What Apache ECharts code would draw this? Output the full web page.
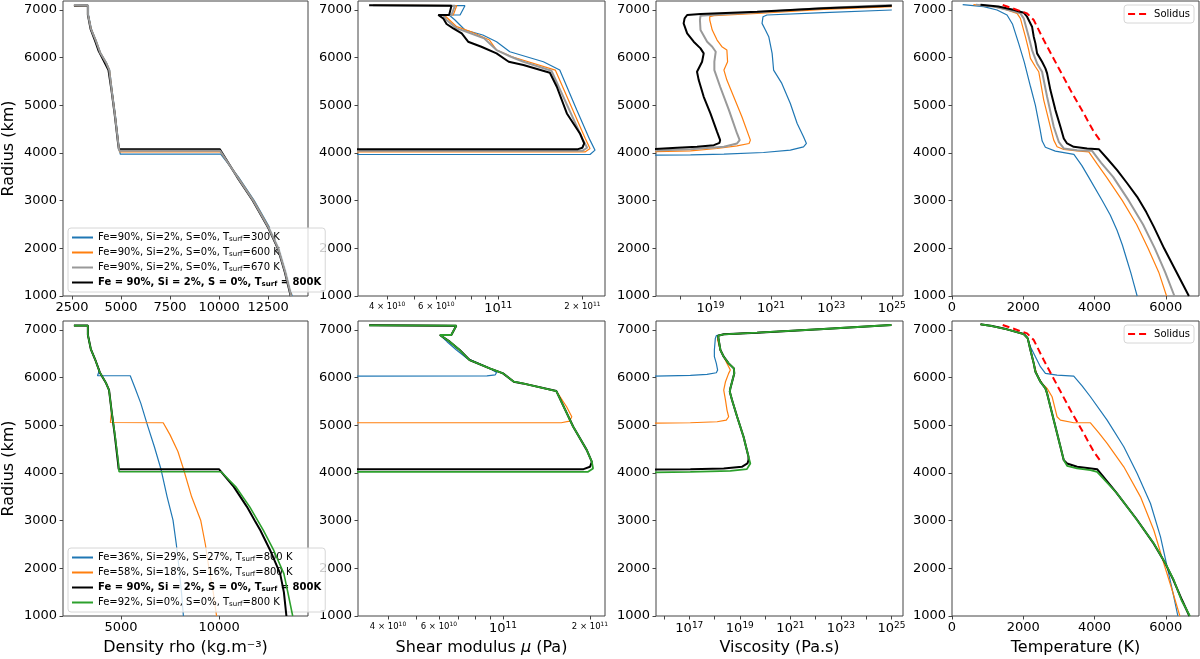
<!DOCTYPE html>
<html>
<head>
<meta charset="utf-8">
<script src="https://cdn.jsdelivr.net/npm/echarts@6.0.0/dist/echarts.min.js"></script>
<style>
html, body { margin: 0; padding: 0; background: #fff; }
#chart { width: 1200px; height: 659px; }
</style>
</head>
<body>
<div id="chart"></div>
<script>
// series names
const N300 = 'Fe=90%, Si=2%, S=0%, Tsurf=300 K'
const N600 = 'Fe=90%, Si=2%, S=0%, Tsurf=600 K'
const N670 = 'Fe=90%, Si=2%, S=0%, Tsurf=670 K'
const N800 = 'Fe=90%, Si=2%, S=0%, Tsurf=800K'
const N36 = 'Fe=36%, Si=29%, S=27%, Tsurf=800 K'
const N58 = 'Fe=58%, Si=18%, S=16%, Tsurf=800 K'
const N92 = 'Fe=92%, Si=0%, S=0%, Tsurf=800 K'
const NSOL = 'Solidus'

// tick values
const radiusTicks = [1000, 2000, 3000, 4000, 5000, 6000, 7000]
const rhoTicksTop = [2500, 5000, 7500, 10000, 12500]
const rhoTicksBot = [5000, 10000]
const muTicks = [4e10, 6e10, 1e11, 2e11]
const muMinor = [4e10, 5e10, 6e10, 7e10, 8e10, 9e10, 1e11, 2e11]
const etaTicksTop = [1e19, 1e21, 1e23, 1e25]
const etaTicksBot = [1e17, 1e19, 1e21, 1e23, 1e25]
const etaMinorTop = [1e18, 1e19, 1e20, 1e21, 1e22, 1e23, 1e24, 1e25]
const etaMinorBot = [1e16, 1e17, 1e18, 1e19, 1e20, 1e21, 1e22, 1e23, 1e24, 1e25]
const tempTicks = [0, 2000, 4000, 6000]

// ---- density (kg/m3) vs radius (km), top row ----
const rhoTop300 = [[2600,7090],[3340,7090],[3340,6900],[3390,6860],[3490,6600],[3740,6350],[3950,6110],[4250,5900],[4420,5740],[4550,5300],[4710,4800],[4880,4200],[4960,3975],[10080,3975],[10160,3955],[10980,3500],[11790,3000],[12550,2450],[13060,2000],[13420,1500],[13720,1000]]
const rhoTop600 = [[2600,7092],[3330,7092],[3330,6900],[3380,6860],[3480,6600],[3730,6350],[3940,6110],[4240,5900],[4410,5740],[4540,5300],[4700,4800],[4870,4200],[4930,4025],[10060,4025],[10140,4000],[10950,3500],[11760,3000],[12520,2450],[13030,2000],[13390,1500],[13690,1000]]
const rhoTop670 = [[2600,7105],[2620,7092],[3320,7092],[3320,6900],[3370,6860],[3470,6600],[3720,6350],[3930,6110],[4230,5900],[4400,5740],[4530,5300],[4690,4800],[4860,4200],[4910,4046],[10050,4046],[10120,4020],[10930,3500],[11740,3000],[12500,2450],[13010,2000],[13370,1500],[13670,1000]]
const rhoTop800 = [[2600,7092],[3310,7092],[3310,6900],[3360,6860],[3450,6600],[3680,6350],[3850,6150],[4100,5950],[4360,5740],[4520,5300],[4680,4800],[4850,4200],[4890,4081],[10030,4081],[10110,4050],[10910,3500],[11720,3000],[12480,2450],[12990,2000],[13350,1500],[13650,1000]]

// ---- density, bottom row ----
const rhoBot36 = [[2600,7092],[3310,7092],[3310,6900],[3360,6860],[3460,6600],[3710,6350],[3900,6150],[3800,6040],[5470,6040],[5700,5800],[6010,5460],[6350,5000],[6700,4550],[7030,4090],[7350,3500],[7650,3010],[7820,2500],[7960,2000],[8080,1500],[8180,1000]]
const rhoBot58 = [[2600,7092],[3310,7092],[3310,6900],[3360,6860],[3460,6600],[3710,6350],[3920,6110],[4220,5900],[4390,5740],[4520,5300],[4460,5060],[7150,5054],[7500,4800],[7900,4450],[8180,4090],[8600,3500],[9060,3010],[9300,2500],[9480,2000],[9700,1500],[9870,1000]]
const rhoBot90 = [[2600,7092],[3310,7092],[3310,6900],[3360,6860],[3460,6600],[3710,6350],[3920,6110],[4220,5900],[4390,5740],[4520,5300],[4680,4800],[4850,4200],[4880,4081],[9990,4081],[10080,4050],[10750,3710],[11420,3290],[11820,3000],[12100,2800],[12600,2380],[13110,1890],[13300,1500],[13430,1000]]
const rhoBot92 = [[2600,7092],[3310,7092],[3310,6900],[3360,6860],[3460,6600],[3710,6350],[3920,6110],[4220,5900],[4390,5740],[4520,5300],[4690,4800],[4870,4200],[4900,4025],[10100,4025],[10180,3990],[10850,3710],[11560,3290],[12250,2800],[12780,2380],[13300,1890],[13500,1500],[13750,1000]]

// ---- shear modulus (Pa), top row ----
const muTop300 = [[3.75e10,7098],[7.6e10,7091],[7.3e10,6895],[6.67e10,6895],[7.0e10,6790],[7.6e10,6580],[8.8e10,6475],[9.86e10,6335],[1.1e11,6125],[1.45e11,5915],[1.66e11,5740],[1.91e11,4900],[2.13e11,4270],[2.22e11,4060],[2.13e11,3969],[3e10,3969]]
const muTop600 = [[3.6e10,7105],[7.1e10,7091],[6.9e10,6895],[6.4e10,6895],[7.1e10,6650],[8.0e10,6545],[9.3e10,6370],[9.86e10,6160],[1.12e11,6020],[1.6e11,5740],[2.05e11,4300],[2.13e11,4095],[2.05e11,4025],[3e10,4025]]
const muTop670 = [[3.56e10,7098],[7.0e10,7091],[6.8e10,6895],[6.35e10,6895],[6.53e10,6790],[7.1e10,6615],[7.7e10,6545],[8.9e10,6405],[9.86e10,6160],[1.11e11,6020],[1.23e11,5915],[1.55e11,5726],[2.0e11,4300],[2.08e11,4110],[2.0e11,4046],[3e10,4046]]
const muTop800 = [[3.45e10,7098],[6.8e10,7091],[6.67e10,6895],[6.1e10,6895],[6.35e10,6825],[6.53e10,6706],[6.9e10,6615],[7.4e10,6510],[7.8e10,6335],[8.7e10,6230],[9.86e10,6090],[1.09e11,5915],[1.23e11,5845],[1.53e11,5684],[1.62e11,5390],[1.76e11,4830],[1.96e11,4410],[2.03e11,4200],[2.0e11,4110],[1.93e11,4081],[3e10,4081]]

// ---- shear modulus, bottom row ----
const muBot36 = [[3.44e10,7098],[6.89e10,7091],[6.62e10,6895],[6.05e10,6895],[6.4e10,6755],[6.9e10,6580],[7.5e10,6405],[9.0e10,6195],[9.5e10,6110],[9.4e10,6060],[8.8e10,6038],[3e10,6034]]
const muBot58 = [[3.44e10,7098],[6.89e10,7091],[6.62e10,6895],[6.05e10,6895],[6.54e10,6755],[7.08e10,6580],[7.66e10,6370],[8.99e10,6195],[1.0e11,6090],[1.09e11,5915],[1.17e11,5880],[1.53e11,5719],[1.66e11,5390],[1.73e11,5180],[1.70e11,5089],[1.59e11,5054],[3e10,5054]]
const muBot90 = [[3.44e10,7098],[6.89e10,7091],[6.62e10,6895],[6.05e10,6895],[6.54e10,6755],[7.08e10,6580],[7.66e10,6370],[8.99e10,6195],[1.0e11,6090],[1.09e11,5915],[1.17e11,5880],[1.53e11,5719],[1.75e11,4970],[1.95e11,4480],[2.03e11,4235],[2.0e11,4130],[1.9e11,4081],[3e10,4081]]
const muBot92 = [[3.44e10,7098],[6.89e10,7091],[6.62e10,6895],[6.05e10,6895],[6.54e10,6755],[7.08e10,6580],[7.66e10,6370],[8.99e10,6195],[1.0e11,6090],[1.09e11,5915],[1.17e11,5880],[1.53e11,5719],[1.75e11,4970],[1.95e11,4480],[2.03e11,4235],[2.05e11,4095],[1.97e11,4025],[3e10,4025]]

// ---- viscosity (Pa.s), top row ----
const etaTop300 = [[1e25,7000],[5.6e22,6944],[7.4e20,6895],[5.5e20,6860],[5.1e20,6720],[6.6e20,6580],[8.5e20,6440],[1.1e21,6090],[1.23e21,5740],[2.3e21,5460],[4.4e21,5040],[7.4e21,4620],[1.2e22,4340],[1.5e22,4200],[1.2e22,4130],[4.4e21,4060],[5.7e20,4011],[2.8e19,3976],[2.2e18,3960],[1e17,3955]]
const etaTop600 = [[1e25,7070],[5.6e22,7014],[3.5e20,6930],[1.3e19,6881],[9.5e18,6860],[9.5e18,6790],[1.15e19,6580],[1.66e19,6370],[2.4e19,6230],[3.5e19,6160],[3.7e19,5915],[2.8e19,5740],[3.5e19,5530],[5.9e19,5180],[1.1e20,4760],[2.1e20,4270],[1.9e20,4200],[7.6e19,4151],[1.66e19,4095],[2.2e18,4046],[1e17,4025]]
const etaTop670 = [[1e25,7105],[5.6e22,7042],[3.5e20,6951],[1e19,6895],[4.7e18,6881],[4.5e18,6790],[4.7e18,6580],[7.8e18,6335],[1.15e19,6230],[1.5e19,6125],[1.35e19,5915],[1.35e19,5740],[2.1e19,5390],[4.1e19,4900],[7.6e19,4410],[9.3e19,4270],[7.6e19,4200],[2.8e19,4130],[2.2e18,4081],[1e17,4050]]
const etaTop800 = [[1e25,7091],[5.6e22,7035],[3.5e20,6965],[4.7e18,6916],[1.7e18,6895],[1.4e18,6825],[1.3e18,6720],[1.7e18,6510],[2.8e18,6335],[4.7e18,6195],[6.0e18,6090],[5.3e18,5915],[3.6e18,5705],[4.1e18,5530],[6.0e18,5180],[1.0e19,4830],[1.66e19,4445],[2.1e19,4270],[2.0e19,4214],[1.3e19,4165],[3.6e18,4130],[7.9e17,4109],[1e17,4081]]

// ---- viscosity, bottom row ----
const etaBot36 = [[1e25,7105],[2.1e22,7021],[4.8e19,6944],[2.3e18,6909],[1.17e18,6881],[1.07e18,6825],[9.8e17,6580],[9.8e17,6440],[1.17e18,6300],[1.32e18,6160],[1.17e18,6104],[5.0e17,6069],[1.1e17,6048],[4e15,6034]]
const etaBot58 = [[1e25,7105],[2.1e22,7021],[4.8e19,6944],[2.3e18,6909],[1.38e18,6881],[1.32e18,6790],[1.7e18,6580],[2.3e18,6440],[3.1e18,6300],[4.2e18,6160],[3.6e18,6090],[2.7e18,5915],[2.3e18,5740],[2.7e18,5530],[3.1e18,5320],[3.6e18,5180],[2.9e18,5110],[1.26e18,5075],[1.1e17,5054],[4e15,5047]]
const etaBot90 = [[1e25,7105],[2.1e22,7021],[4.8e19,6944],[2.3e18,6909],[1.38e18,6881],[1.45e18,6790],[1.7e18,6580],[2.3e18,6440],[3.6e18,6300],[5.8e18,6195],[6.0e18,6090],[4.2e18,5775],[4.0e18,5705],[4.9e18,5530],[7.8e18,5180],[1.4e19,4760],[2.2e19,4340],[2.2e19,4270],[2.0e19,4200],[1.2e19,4130],[2.3e18,4095],[1.1e17,4081],[4e15,4074]]
const etaBot92 = [[1e25,7105],[2.1e22,7021],[4.8e19,6944],[2.3e18,6909],[1.38e18,6881],[1.45e18,6790],[1.7e18,6580],[2.3e18,6440],[3.6e18,6300],[5.8e18,6195],[6.0e18,6090],[4.2e18,5775],[4.0e18,5705],[4.9e18,5530],[7.8e18,5180],[1.4e19,4760],[2.2e19,4340],[2.6e19,4200],[1.9e19,4081],[4.2e18,4046],[1.1e17,4025],[4e15,4015]]

// ---- temperature (K), top row ----
const tempTop300 = [[300,7112],[890,7070],[1264,7000],[1544,6895],[1700,6700],[1870,6300],[2030,5900],[2200,5400],[2340,5000],[2470,4500],[2530,4250],[2620,4120],[2900,4040],[3420,3970],[3640,3740],[3830,3500],[4210,3010],[4440,2700],[4630,2380],[4780,2070],[4910,1750],[5020,1480],[5100,1260],[5195,1000]]
const tempTop600 = [[600,7112],[1076,7084],[1500,7010],[1825,6930],[1919,6825],[2059,6440],[2153,6160],[2200,5985],[2340,5810],[2434,5705],[2574,5110],[2761,4550],[2855,4270],[2948,4130],[3136,4074],[3510,4046],[3838,4025],[4080,3760],[4330,3500],[4780,3000],[5180,2500],[5500,2000],[5800,1500],[6020,1000]]
const tempTop670 = [[670,7112],[1200,7070],[1700,6980],[1919,6930],[2012,6825],[2153,6440],[2246,6160],[2387,5880],[2527,5705],[2668,5180],[2855,4550],[2995,4235],[3136,4095],[3510,4060],[3931,4046],[4180,3800],[4520,3500],[4960,3000],[5360,2500],[5690,2000],[5980,1500],[6240,1000]]
const tempTop800 = [[800,7112],[1300,7075],[1750,7000],[2012,6944],[2106,6860],[2246,6650],[2293,6440],[2340,6300],[2387,6090],[2527,5915],[2621,5775],[2668,5670],[2761,5320],[2902,4900],[3042,4550],[3136,4305],[3229,4200],[3416,4130],[3791,4095],[4118,4081],[4352,3885],[4633,3640],[4920,3360],[5195,3080],[5450,2760],[5663,2450],[5950,2000],[6300,1500],[6646,1000]]

// ---- temperature, bottom row ----
const tempBot36 = [[800,7119],[1123,7084],[1544,7014],[2012,6916],[2106,6860],[2200,6650],[2340,6440],[2480,6230],[2621,6090],[2948,6055],[3416,6034],[3650,5830],[3884,5600],[4352,5110],[4820,4550],[5195,3990],[5569,3360],[5850,2660],[6037,2030],[6224,1400],[6337,1000]]
const tempBot58 = [[800,7119],[1123,7084],[1544,7014],[2012,6916],[2125,6825],[2200,6580],[2293,6300],[2387,6055],[2527,5880],[2668,5775],[2808,5600],[2902,5320],[2948,5180],[3042,5110],[3416,5054],[3884,5054],[4120,4840],[4352,4620],[4820,4130],[5288,3500],[5663,2800],[5944,2100],[6178,1540],[6393,1000]]
const tempBot90 = [[800,7119],[1123,7084],[1544,7014],[2012,6916],[2125,6825],[2200,6580],[2293,6300],[2340,6125],[2387,6055],[2480,5915],[2621,5775],[2668,5670],[2761,5390],[2902,4970],[3042,4550],[3136,4270],[3229,4200],[3510,4130],[4072,4081],[4600,3600],[5170,3040],[5640,2540],[5980,2110],[6210,1760],[6450,1340],[6660,1000]]
const tempBot92 = [[800,7119],[1123,7084],[1544,7014],[2012,6916],[2125,6825],[2200,6580],[2293,6300],[2340,6125],[2387,6055],[2480,5915],[2621,5775],[2668,5670],[2761,5390],[2902,4970],[3042,4550],[3136,4270],[3229,4151],[3510,4095],[3884,4060],[4072,4025],[4633,3570],[5195,3010],[5663,2520],[5990,2100],[6224,1750],[6440,1330],[6674,1000]]

// solidus (same curve in both temperature panels)
const solidus = [[1423,7105],[2106,6930],[2293,6790],[2574,6370],[2948,5845],[3323,5320],[3697,4830],[3978,4445],[4184,4235]]

const FONT = 'DejaVu Sans'
const BLUE = '#1f77b4', ORANGE = '#ff7f0e', GRAY = '#999999', BLACK = '#000000', GREEN = '#2ca02c'

const cols = [62, 358, 656, 952]
const colW = [246, 247, 247, 247]
const rows = [1, 321]
const rowH = 295

const grids = []
for (let r = 0; r < 2; r++) {
  for (let c = 0; c < 4; c++) {
    grids.push({
      left: cols[c], top: rows[r], width: colW[c], height: rowH,
      show: true, borderColor: '#444', borderWidth: 1, backgroundColor: 'transparent'
    })
  }
}

const lg = arr => arr.map(v => Math.log10(v))
const logPts = arr => arr.map(p => [Math.log10(p[0]), p[1]])

const supRich = {
  b: { fontSize: 13, fontFamily: FONT, color: '#000' },
  s: { fontSize: 9, fontFamily: FONT, color: '#000', padding: [0, 0, 7, 0] },
  m: { fontSize: 8.5, fontFamily: FONT, color: '#000' },
  ms: { fontSize: 6, fontFamily: FONT, color: '#000', padding: [0, 0, 5, 0] }
}
const powLabel = v => '{b|10}{s|' + Math.round(v) + '}'
const muLabel = v => {
  const e = Math.floor(v + 1e-9)
  const m = Math.round(Math.pow(10, v - e))
  return m === 1 ? '{b|10}{s|' + e + '}' : '{m|' + m + ' × 10}{ms|' + e + '}'
}

function xAxis(idx, min, max, labels, ticks, formatter, name) {
  return {
    type: 'value', gridIndex: idx, min: min, max: max,
    axisLine: { show: false }, splitLine: { show: false },
    axisTick: { show: true, customValues: ticks, length: 3.5, lineStyle: { color: '#444' } },
    axisLabel: { customValues: labels, formatter: formatter, margin: 5, fontSize: 13, fontFamily: FONT, color: '#000', rich: supRich },
    name: name || '', nameLocation: 'middle', nameGap: 24,
    nameTextStyle: { fontSize: 16, fontFamily: FONT, color: '#000', rich: {
      n: { fontSize: 16, fontFamily: FONT, color: '#000' },
      i: { fontSize: 16, fontFamily: FONT, color: '#000', fontStyle: 'italic' }
    } }
  }
}
function yAxis(idx, withName) {
  return {
    type: 'value', gridIndex: idx, min: 1000, max: 7189,
    axisLine: { show: false }, splitLine: { show: false },
    axisTick: { show: true, customValues: radiusTicks, length: 3.5, lineStyle: { color: '#444' } },
    axisLabel: { customValues: radiusTicks, formatter: v => String(v), margin: 6, fontSize: 13, fontFamily: FONT, color: '#000' },
    name: withName ? 'Radius (km)' : '', nameLocation: 'middle', nameGap: 46,
    nameTextStyle: { fontSize: 16, fontFamily: FONT, color: '#000' }
  }
}

const xAxes = [
  xAxis(0, 2043, 14530, rhoTicksTop, rhoTicksTop, v => String(v)),
  xAxis(1, 10.498, 11.382, lg(muTicks), lg(muMinor), muLabel),
  xAxis(2, 17.2, 25.37, lg(etaTicksTop), lg(etaMinorTop), powLabel),
  xAxis(3, 0, 6930, tempTicks, tempTicks, v => String(v)),
  xAxis(4, 2043, 14530, rhoTicksBot, rhoTicksBot, v => String(v), 'Density rho (kg.m⁻³)'),
  xAxis(5, 10.498, 11.353, lg(muTicks), lg(muMinor), muLabel, '{n|Shear modulus }{i|μ}{n| (Pa)}'),
  xAxis(6, 15.68, 25.46, lg(etaTicksBot), lg(etaMinorBot), powLabel, 'Viscosity (Pa.s)'),
  xAxis(7, 0, 6930, tempTicks, tempTicks, v => String(v), 'Temperature (K)')
]
const yAxes = [0, 1, 2, 3, 4, 5, 6, 7].map(i => yAxis(i, i % 4 === 0))

function line(name, data, color, width, idx, z, dashed) {
  return {
    type: 'line', name: name, data: data, xAxisIndex: idx, yAxisIndex: idx,
    symbol: 'none', showSymbol: false, silent: true, animation: false, clip: true, z: z,
    lineStyle: { color: color, width: width, type: dashed ? [7, 4] : 'solid' },
    itemStyle: { color: color }
  }
}

const series = [
  // top row
  line(N300, rhoTop300, BLUE, 1.2, 0, 2), line(N600, rhoTop600, ORANGE, 1.2, 0, 3),
  line(N800, rhoTop800, BLACK, 2, 0, 4), line(N670, rhoTop670, GRAY, 2, 0, 5),
  line(N300, logPts(muTop300), BLUE, 1.2, 1, 2), line(N600, logPts(muTop600), ORANGE, 1.2, 1, 3),
  line(N670, logPts(muTop670), GRAY, 2, 1, 4), line(N800, logPts(muTop800), BLACK, 2, 1, 5),
  line(N300, logPts(etaTop300), BLUE, 1.2, 2, 2), line(N600, logPts(etaTop600), ORANGE, 1.2, 2, 3),
  line(N670, logPts(etaTop670), GRAY, 2, 2, 4), line(N800, logPts(etaTop800), BLACK, 2, 2, 5),
  line(N300, tempTop300, BLUE, 1.2, 3, 2), line(N600, tempTop600, ORANGE, 1.2, 3, 3),
  line(N670, tempTop670, GRAY, 2, 3, 4), line(N800, tempTop800, BLACK, 2, 3, 5),
  line(NSOL, solidus, '#ff0000', 2, 3, 6, true),
  // bottom row
  line(N36, rhoBot36, BLUE, 1.2, 4, 2), line(N58, rhoBot58, ORANGE, 1.2, 4, 3),
  line(N800, rhoBot90, BLACK, 2, 4, 4), line(N92, rhoBot92, GREEN, 1.6, 4, 5),
  line(N36, logPts(muBot36), BLUE, 1.2, 5, 2), line(N58, logPts(muBot58), ORANGE, 1.2, 5, 3),
  line(N800, logPts(muBot90), BLACK, 2, 5, 4), line(N92, logPts(muBot92), GREEN, 1.8, 5, 5),
  line(N36, logPts(etaBot36), BLUE, 1.2, 6, 2), line(N58, logPts(etaBot58), ORANGE, 1.2, 6, 3),
  line(N800, logPts(etaBot90), BLACK, 2, 6, 4), line(N92, logPts(etaBot92), GREEN, 1.8, 6, 5),
  line(N36, tempBot36, BLUE, 1.2, 7, 2), line(N58, tempBot58, ORANGE, 1.2, 7, 3),
  line(N800, tempBot90, BLACK, 2, 7, 4), line(N92, tempBot92, GREEN, 1.8, 7, 5),
  line(NSOL, solidus, '#ff0000', 2, 7, 6, true)
]

const legendText = {}
legendText[N300] = '{n|Fe=90%, Si=2%, S=0%, T}{s|surf}{n|=300 K}'
legendText[N600] = '{n|Fe=90%, Si=2%, S=0%, T}{s|surf}{n|=600 K}'
legendText[N670] = '{n|Fe=90%, Si=2%, S=0%, T}{s|surf}{n|=670 K}'
legendText[N800] = '{b|Fe = 90%, Si = 2%, S = 0%, T}{bs|surf}{b| = 800K}'
legendText[N36] = '{n|Fe=36%, Si=29%, S=27%, T}{s|surf}{n|=800 K}'
legendText[N58] = '{n|Fe=58%, Si=18%, S=16%, T}{s|surf}{n|=800 K}'
legendText[N92] = '{n|Fe=92%, Si=0%, S=0%, T}{s|surf}{n|=800 K}'
legendText[NSOL] = '{n|Solidus}'

const legendRich = {
  n: { fontSize: 10, fontFamily: FONT, color: '#000', lineHeight: 11 },
  s: { fontSize: 7, fontFamily: FONT, color: '#000', lineHeight: 11, padding: [4, 0, 0, 0] },
  b: { fontSize: 10, fontFamily: FONT, color: '#000', fontWeight: 'bold', lineHeight: 11 },
  bs: { fontSize: 7, fontFamily: FONT, color: '#000', fontWeight: 'bold', lineHeight: 11, padding: [4, 0, 0, 0] }
}
function legend(names, pos) {
  return Object.assign({
    orient: 'vertical', data: names, selectedMode: false,
    itemWidth: 21, itemHeight: 11, itemGap: 4,
    padding: [4, 4, 4, 3],
    borderColor: '#d6d6d6', borderWidth: 1, borderRadius: 3,
    backgroundColor: 'rgba(255,255,255,0.8)',
    itemStyle: { opacity: 0 },
    textStyle: { fontSize: 10, fontFamily: FONT, color: '#000', rich: legendRich },
    formatter: name => legendText[name]
  }, pos)
}

const chart = echarts.init(document.getElementById('chart'), null, { renderer: 'canvas' })
chart.setOption({
  animation: false,
  backgroundColor: '#fff',
  grid: grids,
  xAxis: xAxes,
  yAxis: yAxes,
  legend: [
    legend([N300, N600, N670, N800], { left: 68, top: 228 }),
    legend([N36, N58, N800, N92], { left: 68, top: 548 }),
    legend([NSOL], { right: 6, top: 5 }),
    legend([NSOL], { right: 6, top: 325 })
  ],
  series: series
})
</script>
</body>
</html>
